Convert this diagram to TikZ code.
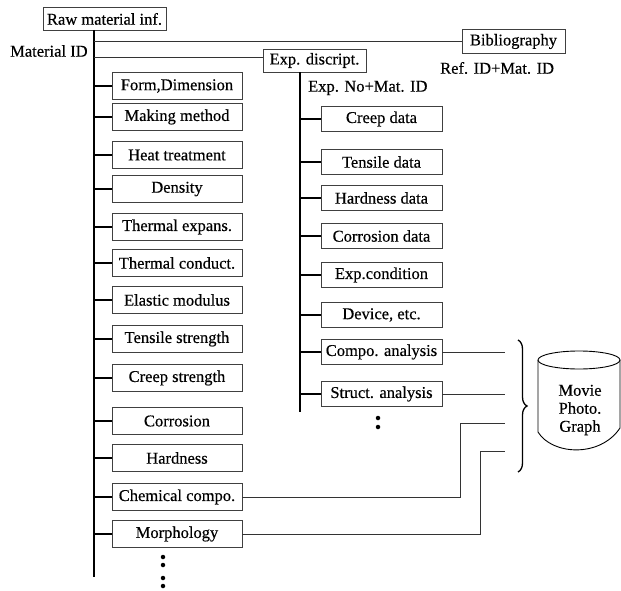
\documentclass[tikz,border=0pt]{standalone}
\usepackage{fontspec}
\setmainfont{Liberation Serif}[FakeBold=0.4]
\usetikzlibrary{decorations.pathreplacing}
\begin{document}
\begin{tikzpicture}[x=1pt,y=-1pt,
  txt/.style={font=\fontsize{16.5}{19}\selectfont, inner sep=0pt},
  lbox/.style={txt, draw=black!75, line width=0.7pt, minimum width=130pt, minimum height=27pt},
  rbox/.style={txt, draw=black!75, line width=0.7pt, minimum width=121pt, minimum height=25pt},
  tbox/.style={txt, draw=black!75, line width=0.7pt, minimum height=23pt},
  trunk/.style={line width=1.6pt},
  tick/.style={line width=1.3pt},
  thin/.style={line width=0.7pt, black!80},
  dot/.style={circle, fill=black, inner sep=0pt, minimum size=4.5pt}]
\useasboundingbox (0,0) rectangle (621,591);

% top nodes
\node[tbox, minimum width=123pt] (raw) at (104.5,19) {Raw material inf.};
\node[txt, anchor=west] (matid) at (10,51) {Material ID};
\node[tbox, minimum width=103pt, minimum height=24pt] (bib) at (513.5,41.5) {Bibliography};
\node[txt, anchor=west] (refid) at (440,68) {Ref. ID+Mat. ID};
\node[tbox, minimum width=103pt] (exd) at (314.5,60.5) {Exp. discript.};
\node[txt, anchor=west] (expno) at (308,88) {Exp. No+Mat. ID};

% trunks
\coordinate (m1) at (94,30);
\coordinate (m2) at (94,577);
\coordinate (s2) at (300,412);
\draw[trunk] (m1) -- (m2);
\draw[trunk] (exd.south -| s2) -- (s2);

\draw[thin] (m1 |- bib.west) -- (bib.west);
\draw[thin] (m1 |- exd.west) ++(0,-3) -- (exd.west |- 0,57.5);

% left boxes
\foreach \n/\y/\t in {a/86/{Form,Dimension}, b/117/{Making method}, c/155/{Heat treatment},
  d/189/{Density}, e/227/{Thermal expans.}, f/263/{Thermal conduct.}, g/300/{Elastic modulus},
  h/339/{Tensile strength}, i/378/{Creep strength}, j/421/{Corrosion}, k/458/{Hardness},
  l/497/{Chemical compo.}, mo/534/{Morphology}} {
  \node[lbox] (\n) at (177,\y) {\t};
  \draw[tick] (\n.west -| m1) -- (\n.west);
}

% right boxes
\foreach \n/\y/\t in {ra/119/{Creep data}, rb/162/{Tensile data}, rc/198/{Hardness data},
  rd/236/{Corrosion data}, re/275/{Exp.condition}, rf/315/{Device, etc.},
  rg/352/{Compo. analysis}, rh/394/{Struct. analysis}} {
  \node[rbox] (\n) at (381.5,\y) {\t};
  \draw[tick] (\n.west -| s2) -- (\n.west);
}

% dots
\node[dot] (ld1) at (163,557) {};
\node[dot] (ld2) at (163,565) {};
\node[dot] (ld3) at (163,578) {};
\node[dot] (ld4) at (163,586) {};
\node[dot] (rd1) at (378,418) {};
\node[dot] (rd2) at (378,427) {};

% connectors to media
\coordinate (bx) at (505,0);
\coordinate (j1) at (460,423);
\coordinate (j2) at (480,451);
\draw[thin] (rg.east) -- (rg.east -| bx);
\draw[thin] (rh.east) -- (rh.east -| bx);
\draw[thin] (l.east) -| (j1) -- (j1 -| bx);
\draw[thin] (mo.east) -| (j2) -- (j2 -| bx);

% brace
\coordinate (br1) at (518,340);
\coordinate (br2) at (518,472);
\draw[line width=1.3pt, decorate, decoration={brace, amplitude=9pt}] (br1) -- (br2);

% cylinder
\draw[line width=0.9pt] (579,360) ellipse [x radius=41, y radius=9];
\draw[line width=0.9pt] (538,360) -- (538,432) .. controls (552,455) and (600,458) .. (620,428) -- (620,360);
\node[txt, align=center] (media) at (580,410) {Movie\\[-1pt]Photo.\\[-1pt]Graph};
\end{tikzpicture}
\end{document}
